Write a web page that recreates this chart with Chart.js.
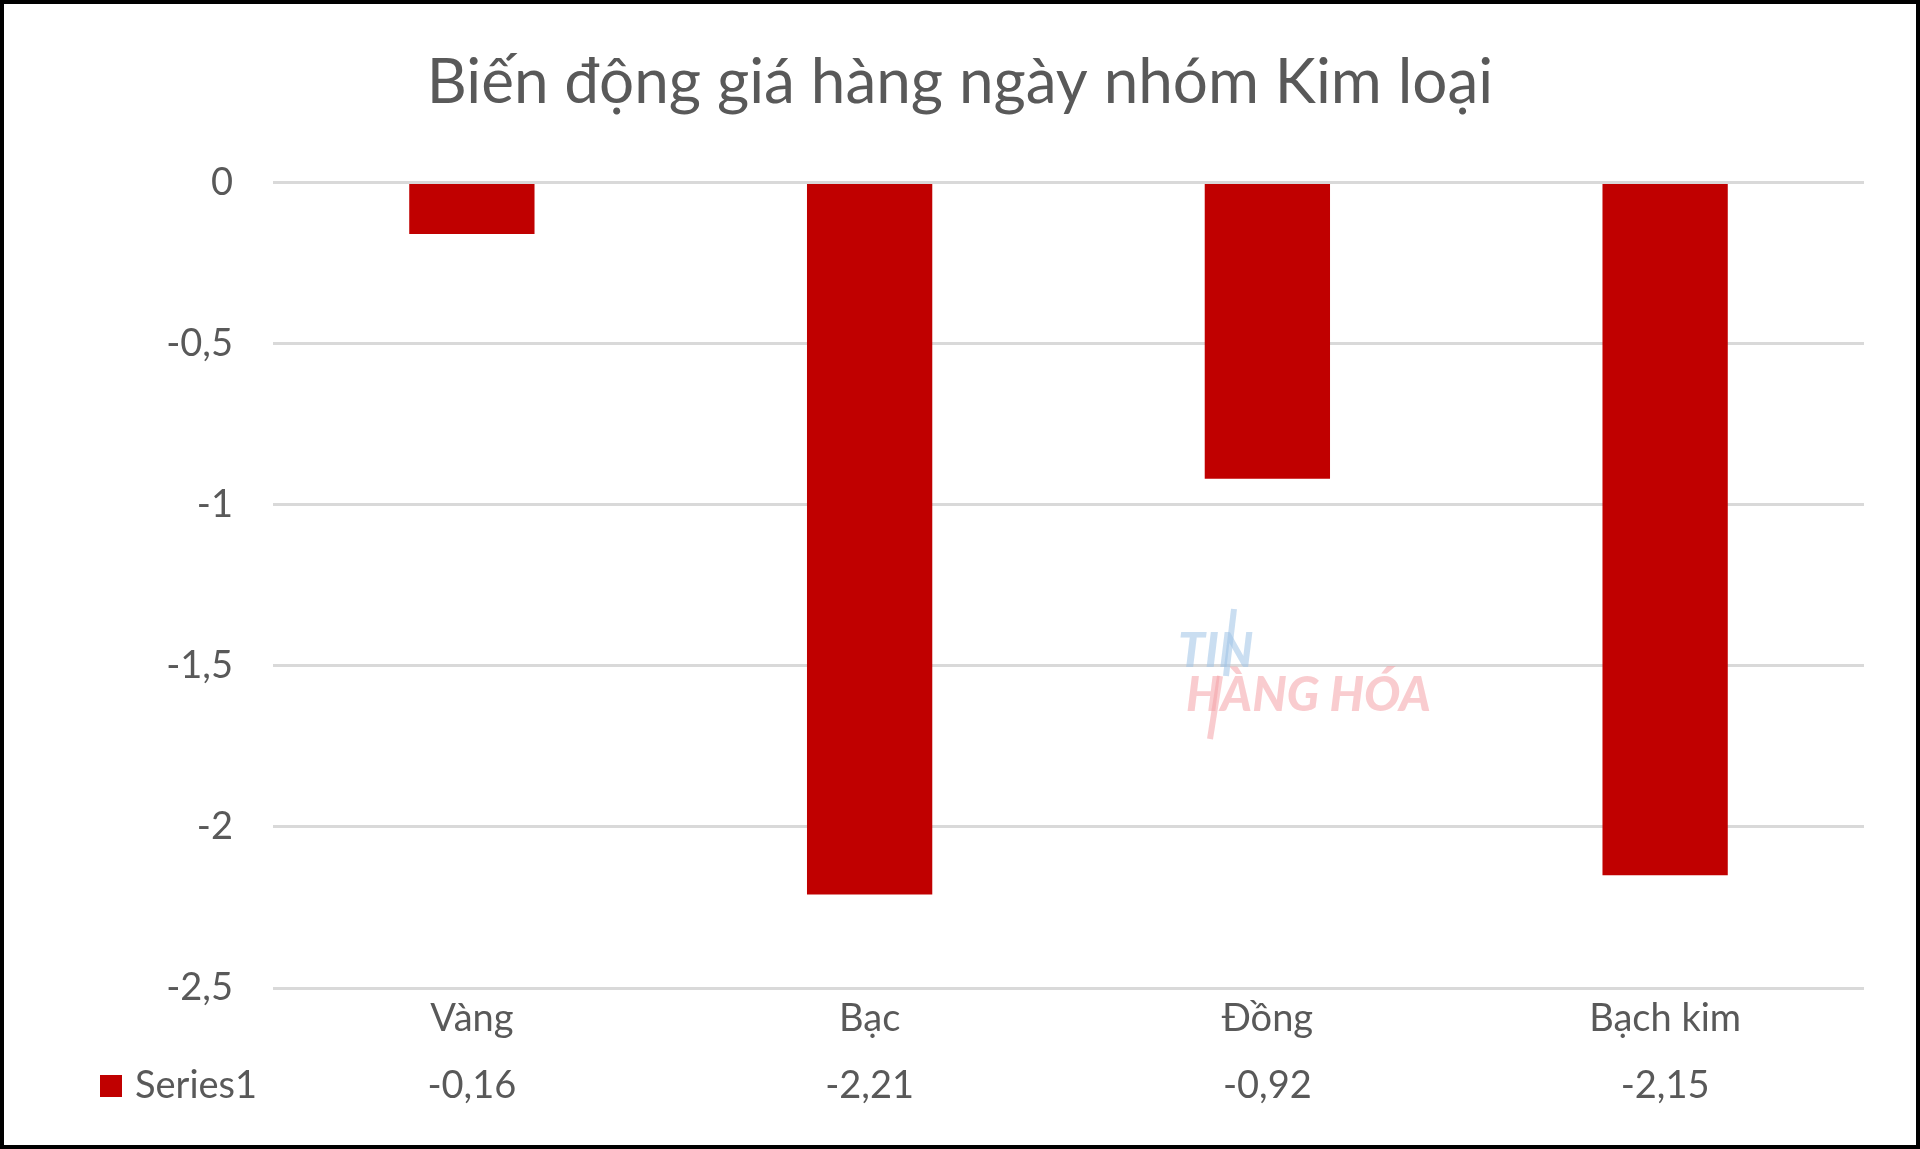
<!DOCTYPE html>
<html>
<head>
<meta charset="utf-8">
<script src="https://cdn.jsdelivr.net/npm/chart.js@4.4.0/dist/chart.umd.min.js"></script>
<style>
  html, body { margin: 0; padding: 0; background: #fff; }
  #wrap { width: 1912px; height: 1141px; border: 4px solid #000; }
  canvas { display: block; }
</style>
</head>
<body>
<div id="wrap"><canvas id="myChart" width="1912" height="1141"></canvas></div>
<script>
const titleText = 'Biến động giá hàng ngày nhóm Kim loại';
const categories = ['Vàng', 'Bạc', 'Đồng', 'Bạch kim'];
const series1 = [-0.16, -2.21, -0.92, -2.15];
const seriesName = 'Series1';
const yTicks = [0, -0.5, -1, -1.5, -2, -2.5];

const textColor = '#595959';
const barColor = '#C00000';
const fontFamily = 'Lato, "Open Sans", sans-serif';

const fmt = (v) => String(v).replace('.', ',');

// data table under the axis + faint watermark
const dataTable = {
  id: 'dataTable',
  afterDraw(chart) {
    const { ctx, chartArea, scales } = chart;
    const rowY = chartArea.bottom + 98;
    ctx.save();
    ctx.font = '38px ' + fontFamily;
    ctx.fillStyle = textColor;
    ctx.textAlign = 'center';
    ctx.textBaseline = 'middle';
    series1.forEach((v, i) => {
      ctx.fillText(fmt(v), scales.x.getPixelForValue(i), rowY);
    });
    ctx.fillStyle = barColor;
    ctx.fillRect(96, rowY - 11, 22, 22);
    ctx.fillStyle = textColor;
    ctx.textAlign = 'left';
    ctx.fillText(seriesName, 131, rowY);
    ctx.restore();
  },
  afterDatasetsDraw(chart) {
    const ctx = chart.ctx;
    ctx.save();
    ctx.globalAlpha = 0.55;
    ctx.font = 'italic 900 48px ' + fontFamily;
    ctx.textBaseline = 'middle';
    ctx.fillStyle = '#9fc3e6';
    ctx.fillText('TIN', 1174, 648);
    ctx.fillStyle = '#f4a3a8';
    ctx.fillText('HÀNG HÓA', 1182, 692);
    ctx.strokeStyle = '#9fc3e6';
    ctx.lineWidth = 6;
    ctx.beginPath();
    ctx.moveTo(1222, 672);
    ctx.lineTo(1230, 605);
    ctx.stroke();
    ctx.strokeStyle = '#f4a3a8';
    ctx.beginPath();
    ctx.moveTo(1216, 672);
    ctx.lineTo(1206, 735);
    ctx.stroke();
    ctx.restore();
  }
};

new Chart(document.getElementById('myChart'), {
  type: 'bar',
  data: {
    labels: categories,
    datasets: [{
      label: seriesName,
      data: series1,
      yAxisID: 'y',
      backgroundColor: barColor,
      borderWidth: 0,
      categoryPercentage: 1,
      barPercentage: 0.315
    }]
  },
  options: {
    responsive: false,
    animation: false,
    layout: { padding: 0 },
    plugins: {
      legend: { display: false },
      tooltip: { enabled: false },
      title: {
        display: true,
        text: titleText,
        color: textColor,
        font: { family: fontFamily, size: 62, weight: 'normal' },
        padding: { top: 42, bottom: 62 }
      }
    },
    scales: {
      x: {
        grid: { display: false, drawTicks: false },
        border: { display: false },
        ticks: { color: textColor, font: { family: fontFamily, size: 38 }, padding: 8, maxRotation: 0 },
        afterFit(scale) { scale.height = 157; }
      },
      y: {
        min: -2.5,
        max: 0,
        afterBuildTicks(scale) { scale.ticks = yTicks.map(v => ({ value: v })); },
        grid: { color: '#D9D9D9', lineWidth: 3, drawTicks: false },
        border: { display: false },
        ticks: {
          color: textColor,
          font: { family: fontFamily, size: 38 },
          padding: 40,
          callback: (v) => fmt(v)
        },
        afterFit(scale) { scale.width = 269; }
      },
      // empty right-hand spacer so the title stays centred on the page
      yRight: {
        position: 'right',
        min: -2.5,
        max: 0,
        grid: { display: false, drawTicks: false },
        border: { display: false },
        ticks: { display: false },
        afterFit(scale) { scale.width = 52; }
      }
    }
  },
  plugins: [dataTable]
});
</script>
</body>
</html>
